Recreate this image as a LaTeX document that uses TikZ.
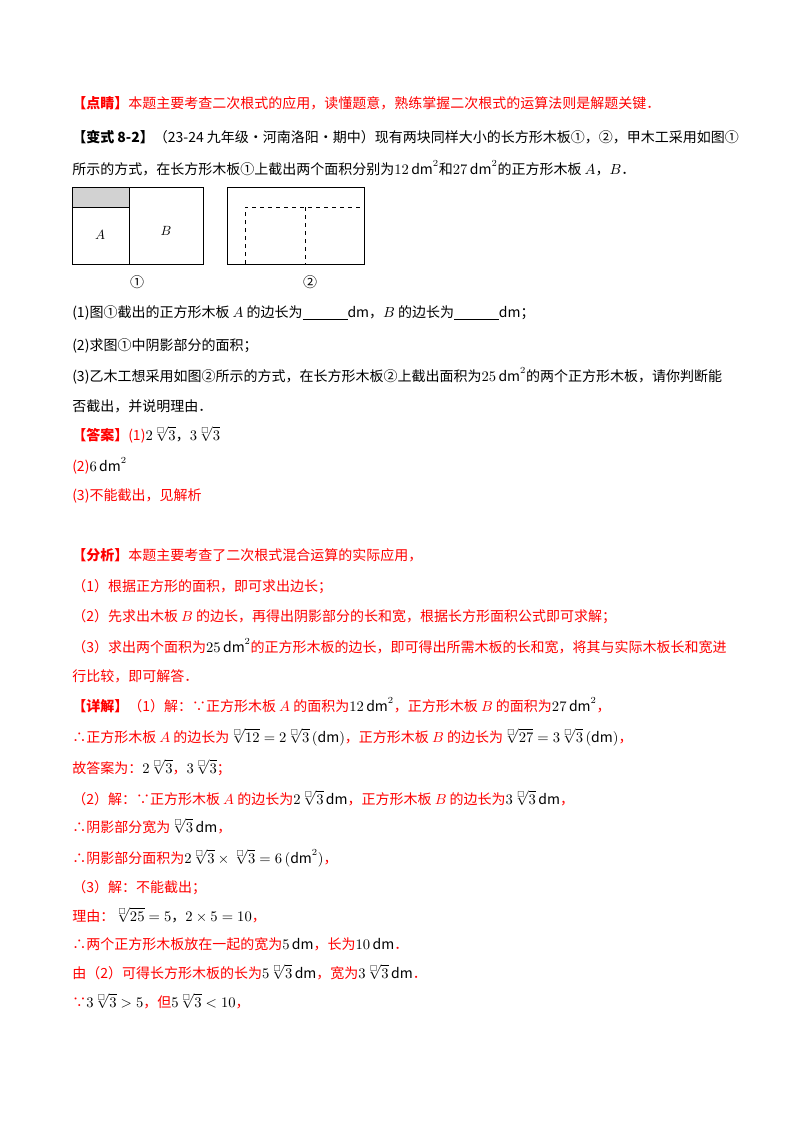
\documentclass[tikz,border=0pt]{standalone}
\usepackage{amssymb}
\usepackage{fontspec}
\setmainfont{Noto Sans CJK SC}
\newcommand\rt[1]{\textcolor{red}{#1}}
\newcommand\rd[1]{\ensuremath{\sqrt[\scriptscriptstyle\square]{#1}}}
\newcommand\dmq{\,\mathrm{dm}^2}
\newcommand\dmm{\,\mathrm{dm}}
\begin{document}
\begin{tikzpicture}[x=0.75pt,y=-0.75pt,
  ln/.style={anchor=base west,inner sep=0pt,font=\fontsize{10.5}{12}\selectfont},
  bx/.style={draw,line width=0.6pt},
  ds/.style={dashed,line width=0.6pt}]
\useasboundingbox (0,0) rectangle (800,1132);
\node[ln] (l1) at (72,108) {\rt{\textbf{【点睛】}本题主要考查二次根式的应用，读懂题意，熟练掌握二次根式的运算法则是解题关键．}};
\node[ln] (l2) at (72,142) {\textbf{【变式 8-2】}（23-24 九年级·河南洛阳·期中）现有两块同样大小的长方形木板①，②，甲木工采用如图①};
\node[ln] (l3) at (72,174) {所示的方式，在长方形木板①上截出两个面积分别为$12\dmq$和$27\dmq$的正方形木板 $A$，$B$．};
% figure 1
\fill[gray!35] (72,187) rectangle (129,207);
\draw[bx] (72,187) rectangle (203,264);
\draw[bx] (129,187) -- (129,264);
\draw[bx] (72,207) -- (129,207);
\node (fa) at (100,235) {$A$};
\node (fb) at (166,231) {$B$};
\node (c1) at (137,282) {\fontsize{10.5}{12}\selectfont ①};
% figure 2
\draw[bx] (227,187) rectangle (364,264);
\draw[ds] (245,264) -- (245,207) -- (364,207);
\draw[ds] (305,207) -- (305,264);
\node (c2) at (310,282) {\fontsize{10.5}{12}\selectfont ②};
\node[ln] (l4) at (72,317) {(1)图①截出的正方形木板 $A$ 的边长为\underline{\hspace{3.2em}}$\mathrm{dm}$，$B$ 的边长为\underline{\hspace{3.2em}}$\mathrm{dm}$；};
\node[ln] (l5) at (72,350) {(2)求图①中阴影部分的面积；};
\node[ln] (l6) at (72,381) {(3)乙木工想采用如图②所示的方式，在长方形木板②上截出面积为$25\dmq$的两个正方形木板，请你判断能};
\node[ln] (l7) at (72,411) {否截出，并说明理由．};
\node[ln] (l8) at (72,440) {\rt{\textbf{【答案】}(1)}$2\rd{3}$，$3\rd{3}$};
\node[ln] (l9) at (72,471) {\rt{(2)}$6\dmq$};
\node[ln] (l10) at (72,500) {\rt{(3)不能截出，见解析}};
\node[ln] (l11) at (72,560) {\rt{\textbf{【分析】}本题主要考查了二次根式混合运算的实际应用，}};
\node[ln] (l12) at (72,591) {\rt{（1）根据正方形的面积，即可求出边长；}};
\node[ln] (l13) at (72,621) {\rt{（2）先求出木板 $B$ 的边长，再得出阴影部分的长和宽，根据长方形面积公式即可求解；}};
\node[ln] (l14) at (72,652) {\rt{（3）求出两个面积为}$25\dmq$\rt{的正方形木板的边长，即可得出所需木板的长和宽，将其与实际木板长和宽进}};
\node[ln] (l15) at (72,681) {\rt{行比较，即可解答．}};
\node[ln] (l16) at (72,711) {\rt{\textbf{【详解】}（1）解：∵正方形木板 $A$ 的面积为}$12\dmq$\rt{，正方形木板 $B$ 的面积为}$27\dmq$\rt{，}};
\node[ln] (l17) at (72,742) {\rt{∴正方形木板 $A$ 的边长为}$\rd{12}=2\rd{3}\,(\mathrm{dm})$\rt{，正方形木板 $B$ 的边长为}$\rd{27}=3\rd{3}\,(\mathrm{dm})$\rt{，}};
\node[ln] (l18) at (72,773) {\rt{故答案为：}$2\rd{3}$\rt{，}$3\rd{3}$\rt{；}};
\node[ln] (l19) at (72,804) {\rt{（2）解：∵正方形木板 $A$ 的边长为}$2\rd{3}\dmm$\rt{，正方形木板 $B$ 的边长为}$3\rd{3}\dmm$\rt{，}};
\node[ln] (l20) at (72,832) {\rt{∴阴影部分宽为}$\rd{3}\dmm$\rt{，}};
\node[ln] (l21) at (72,863) {\rt{∴阴影部分面积为}$2\rd{3}\times\rd{3}=6\,(\mathrm{dm}^2)$\rt{，}};
\node[ln] (l22) at (72,892) {\rt{（3）解：不能截出；}};
\node[ln] (l23) at (72,921) {\rt{理由：}$\rd{25}=5$，$2\times5=10$\rt{，}};
\node[ln] (l24) at (72,949) {\rt{∴两个正方形木板放在一起的宽为}$5\dmm$\rt{，长为}$10\dmm$\rt{．}};
\node[ln] (l25) at (72,978) {\rt{由（2）可得长方形木板的长为}$5\rd{3}\dmm$\rt{，宽为}$3\rd{3}\dmm$\rt{．}};
\node[ln] (l26) at (72,1007) {\rt{∵}$3\rd{3}>5$\rt{，但}$5\rd{3}<10$\rt{，}};
\end{tikzpicture}
\end{document}
